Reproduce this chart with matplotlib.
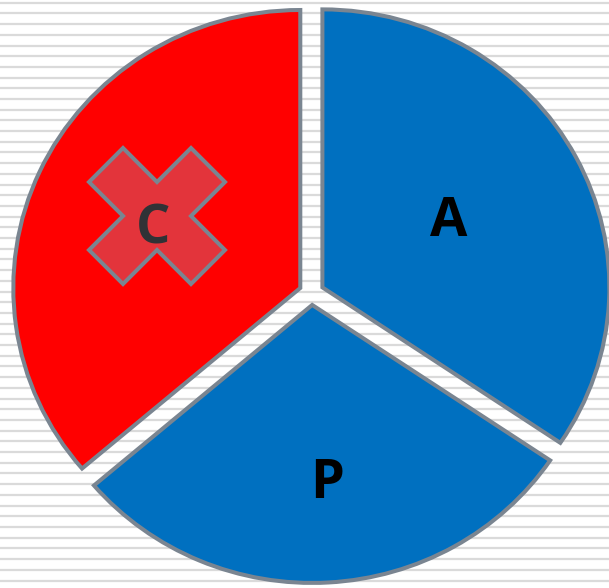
import numpy as np
import matplotlib.pyplot as plt

# CAP pie: C is crossed out
labels = ['C', 'P', 'A']
sizes = [130.5, 105.5, 124.0]
colors = ['#FF0000', '#0070C0', '#0070C0']
label_colors = ['#303236', '#000000', '#000000']
label_dist = [0.56, 0.63, 0.50]
label_shift = [(-1, -4.5), (3, -3), (0, 0)]  # points
crossed = ['C']

edge = '#7a8591'

fig = plt.figure(figsize=(6.09, 5.88), dpi=100)

# striped background
bg = fig.add_axes([0, 0, 1, 1])
bg.set_xlim(0, 609)
bg.set_ylim(588, 0)
bg.hlines(np.arange(2.7, 588, 10.7), 0, 609, color='#dadada', lw=1.6)
bg.axis('off')

ax = fig.add_axes([0, 0, 1, 1])
ax.patch.set_alpha(0)
wedges, _ = ax.pie(sizes, colors=colors, startangle=90, counterclock=True,
                   explode=[0.043] * len(sizes),
                   wedgeprops=dict(edgecolor=edge, linewidth=2.9, joinstyle='miter'))
ax.set_aspect('auto')
ax.set_xlim(-1.0854, 1.0366)
ax.set_ylim(-1.0612, 1.0540)
ax.axis('off')

for w, lab, dist, tc, sh in zip(wedges, labels, label_dist, label_colors, label_shift):
    theta = np.deg2rad((w.theta1 + w.theta2) / 2)
    x = w.center[0] + dist * np.cos(theta)
    y = w.center[1] + dist * np.sin(theta)
    if lab in crossed:
        ax.plot(x + 0.009, y + 0.025, marker='X', ms=98, mfc='#E3343B',
                mec=edge, mew=2.9, ls='none', zorder=5)
    ax.annotate(lab, (x, y), xytext=sh, textcoords='offset points',
                ha='center', va='center', fontsize=39, fontweight='bold',
                family='Open Sans', color=tc, zorder=6)

fig.savefig('out.png', dpi=100)
